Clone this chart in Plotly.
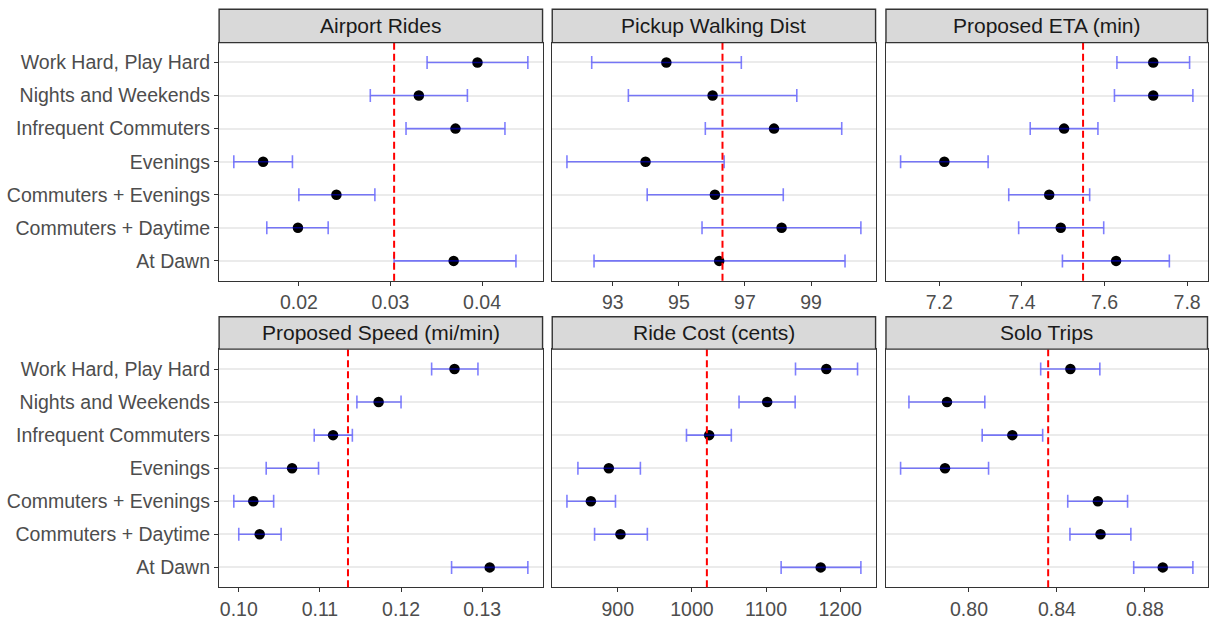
import plotly.graph_objects as go

# Rider segments, listed top to bottom as they appear on each panel
segments = ["Work Hard, Play Hard", "Nights and Weekends", "Infrequent Commuters",
            "Evenings", "Commuters + Evenings", "Commuters + Daytime", "At Dawn"]

metrics = ["Airport Rides", "Pickup Walking Dist", "Proposed ETA (min)",
           "Proposed Speed (mi/min)", "Ride Cost (cents)", "Solo Trips"]

# Segment means with lower / upper confidence bounds
airport_mean = [0.0395, 0.0331, 0.0371, 0.0161, 0.0241, 0.0199, 0.0369]
airport_lo = [0.0340, 0.0278, 0.0317, 0.0129, 0.0200, 0.0165, 0.0304]
airport_hi = [0.0450, 0.0384, 0.0425, 0.0193, 0.0283, 0.0232, 0.0437]

walk_mean = [94.62, 96.02, 97.88, 93.99, 96.09, 98.11, 96.22]
walk_lo = [92.36, 93.47, 95.80, 91.61, 94.04, 95.70, 92.43]
walk_hi = [96.89, 98.57, 99.93, 96.37, 98.16, 100.51, 100.03]

eta_mean = [7.718, 7.718, 7.502, 7.212, 7.466, 7.494, 7.628]
eta_lo = [7.630, 7.624, 7.420, 7.106, 7.368, 7.392, 7.498]
eta_hi = [7.806, 7.814, 7.584, 7.318, 7.564, 7.598, 7.757]

speed_mean = [0.12659, 0.11724, 0.11162, 0.10657, 0.10179, 0.10258, 0.13093]
speed_lo = [0.12377, 0.11456, 0.10930, 0.10338, 0.09939, 0.10000, 0.12623]
speed_hi = [0.12948, 0.12000, 0.11400, 0.10983, 0.10430, 0.10522, 0.13563]

cost_mean = [1181.4, 1101.6, 1023.3, 887.9, 863.7, 903.6, 1173.8]
cost_lo = [1139.8, 1063.6, 992.7, 846.2, 831.4, 868.7, 1120.4]
cost_hi = [1223.5, 1139.3, 1053.2, 930.5, 896.9, 939.9, 1228.0]

solo_mean = [0.8461, 0.7900, 0.8197, 0.7891, 0.8586, 0.8598, 0.8881]
solo_lo = [0.8326, 0.7727, 0.8060, 0.7689, 0.8449, 0.8459, 0.8749]
solo_hi = [0.8595, 0.8072, 0.8335, 0.8089, 0.8721, 0.8736, 0.9018]

# Overall average for each metric (dashed reference line)
overall = [0.0304, 96.32, 7.548, 0.11346, 1020.2, 0.8360]

# Axis ticks per panel
airport_ticks = [0.02, 0.03, 0.04]
walk_ticks = [93, 95, 97, 99]
eta_ticks = [7.2, 7.4, 7.6, 7.8]
speed_ticks = [0.10, 0.11, 0.12, 0.13]
cost_ticks = [900, 1000, 1100, 1200]
solo_ticks = [0.80, 0.84, 0.88]

means = [airport_mean, walk_mean, eta_mean, speed_mean, cost_mean, solo_mean]
lows = [airport_lo, walk_lo, eta_lo, speed_lo, cost_lo, solo_lo]
highs = [airport_hi, walk_hi, eta_hi, speed_hi, cost_hi, solo_hi]
ticks = [airport_ticks, walk_ticks, eta_ticks, speed_ticks, cost_ticks, solo_ticks]
formats = [".2f", "d", ".1f", ".2f", "d", ".2f"]

W, H = 1209, 620
col_px = [(219.3, 543.0), (552.7, 876.3), (886.7, 1208.5)]
row_px = [(43.0, 283.0), (352.0, 592.0)]      # panel top / bottom
strip_px = [(9.3, 43.0), (319.3, 352.0)]      # strip top / bottom

BORDER = "#333333"
FONT = "Liberation Sans, Arial, sans-serif"
TICK_SIZE = 19.5
STRIP_SIZE = 21

fig = go.Figure()
layout = dict(
    width=W, height=H,
    margin=dict(l=0, r=0, t=0, b=0),
    paper_bgcolor="white", plot_bgcolor="white",
    showlegend=False,
    font=dict(family=FONT, size=TICK_SIZE, color="#4D4D4D"),
    shapes=[], annotations=[],
)

for i, name in enumerate(metrics):
    r, c = divmod(i, 3)
    sfx = "" if i == 0 else str(i + 1)
    xa, ya = "x" + sfx, "y" + sfx

    # points first, error bars drawn over them
    fig.add_trace(go.Scatter(
        x=means[i], y=segments, xaxis=xa, yaxis=ya, mode="markers",
        marker=dict(color="black", size=10.5), hoverinfo="skip"))
    fig.add_trace(go.Scatter(
        x=means[i], y=segments, xaxis=xa, yaxis=ya, mode="markers",
        marker=dict(color="rgba(0,0,0,0)", size=1),
        error_x=dict(type="data", symmetric=False,
                     array=[h - m for h, m in zip(highs[i], means[i])],
                     arrayminus=[m - l for m, l in zip(means[i], lows[i])],
                     color="rgba(0,0,255,0.5)", thickness=1.6, width=6.5),
        hoverinfo="skip"))

    lo, hi = min(lows[i]), max(highs[i])
    pad = (hi - lo) * 0.05
    x0, x1 = col_px[c]
    top, bot = row_px[r]

    layout["xaxis" + sfx] = dict(
        domain=[x0 / W, x1 / W], anchor=ya, range=[lo - pad, hi + pad],
        tickvals=ticks[i], tickformat=formats[i], showgrid=False, zeroline=False,
        showline=True, linecolor=BORDER, linewidth=1.4, mirror=True,
        ticks="outside", ticklen=4, tickwidth=1.2, tickcolor=BORDER,
        tickfont=dict(size=TICK_SIZE, color="#4D4D4D"))
    layout["yaxis" + sfx] = dict(
        domain=[1 - bot / H, 1 - top / H], anchor=xa, type="category",
        categoryorder="array", categoryarray=segments[::-1], range=[-0.6, 6.6],
        showgrid=True, gridcolor="#EBEBEB", gridwidth=1.8, zeroline=False,
        showline=True, linecolor=BORDER, linewidth=1.4, mirror=True,
        ticks="outside" if c == 0 else "", ticklen=4, tickwidth=1.2, tickcolor=BORDER,
        showticklabels=(c == 0), tickfont=dict(size=TICK_SIZE, color="#4D4D4D"))

    # dashed overall average line
    layout["shapes"].append(dict(
        type="line", xref=xa, yref=ya + " domain", x0=overall[i], x1=overall[i],
        y0=0, y1=1, line=dict(color="red", width=2, dash="7px,4px"), layer="above"))

    # facet strip
    s_top, s_bot = strip_px[r]
    layout["shapes"].append(dict(
        type="rect", xref="paper", yref="paper", x0=x0 / W, x1=x1 / W,
        y0=1 - s_bot / H, y1=1 - s_top / H, fillcolor="#D9D9D9",
        line=dict(color=BORDER, width=1.4), layer="above"))
    layout["annotations"].append(dict(
        text=name, xref="paper", yref="paper", x=(x0 + x1) / 2 / W,
        y=1 - (s_top + s_bot) / 2 / H, showarrow=False, xanchor="center",
        yanchor="middle", font=dict(size=STRIP_SIZE, color="#1A1A1A", family=FONT)))

fig.update_layout(**layout)
fig.write_html("out.html")
